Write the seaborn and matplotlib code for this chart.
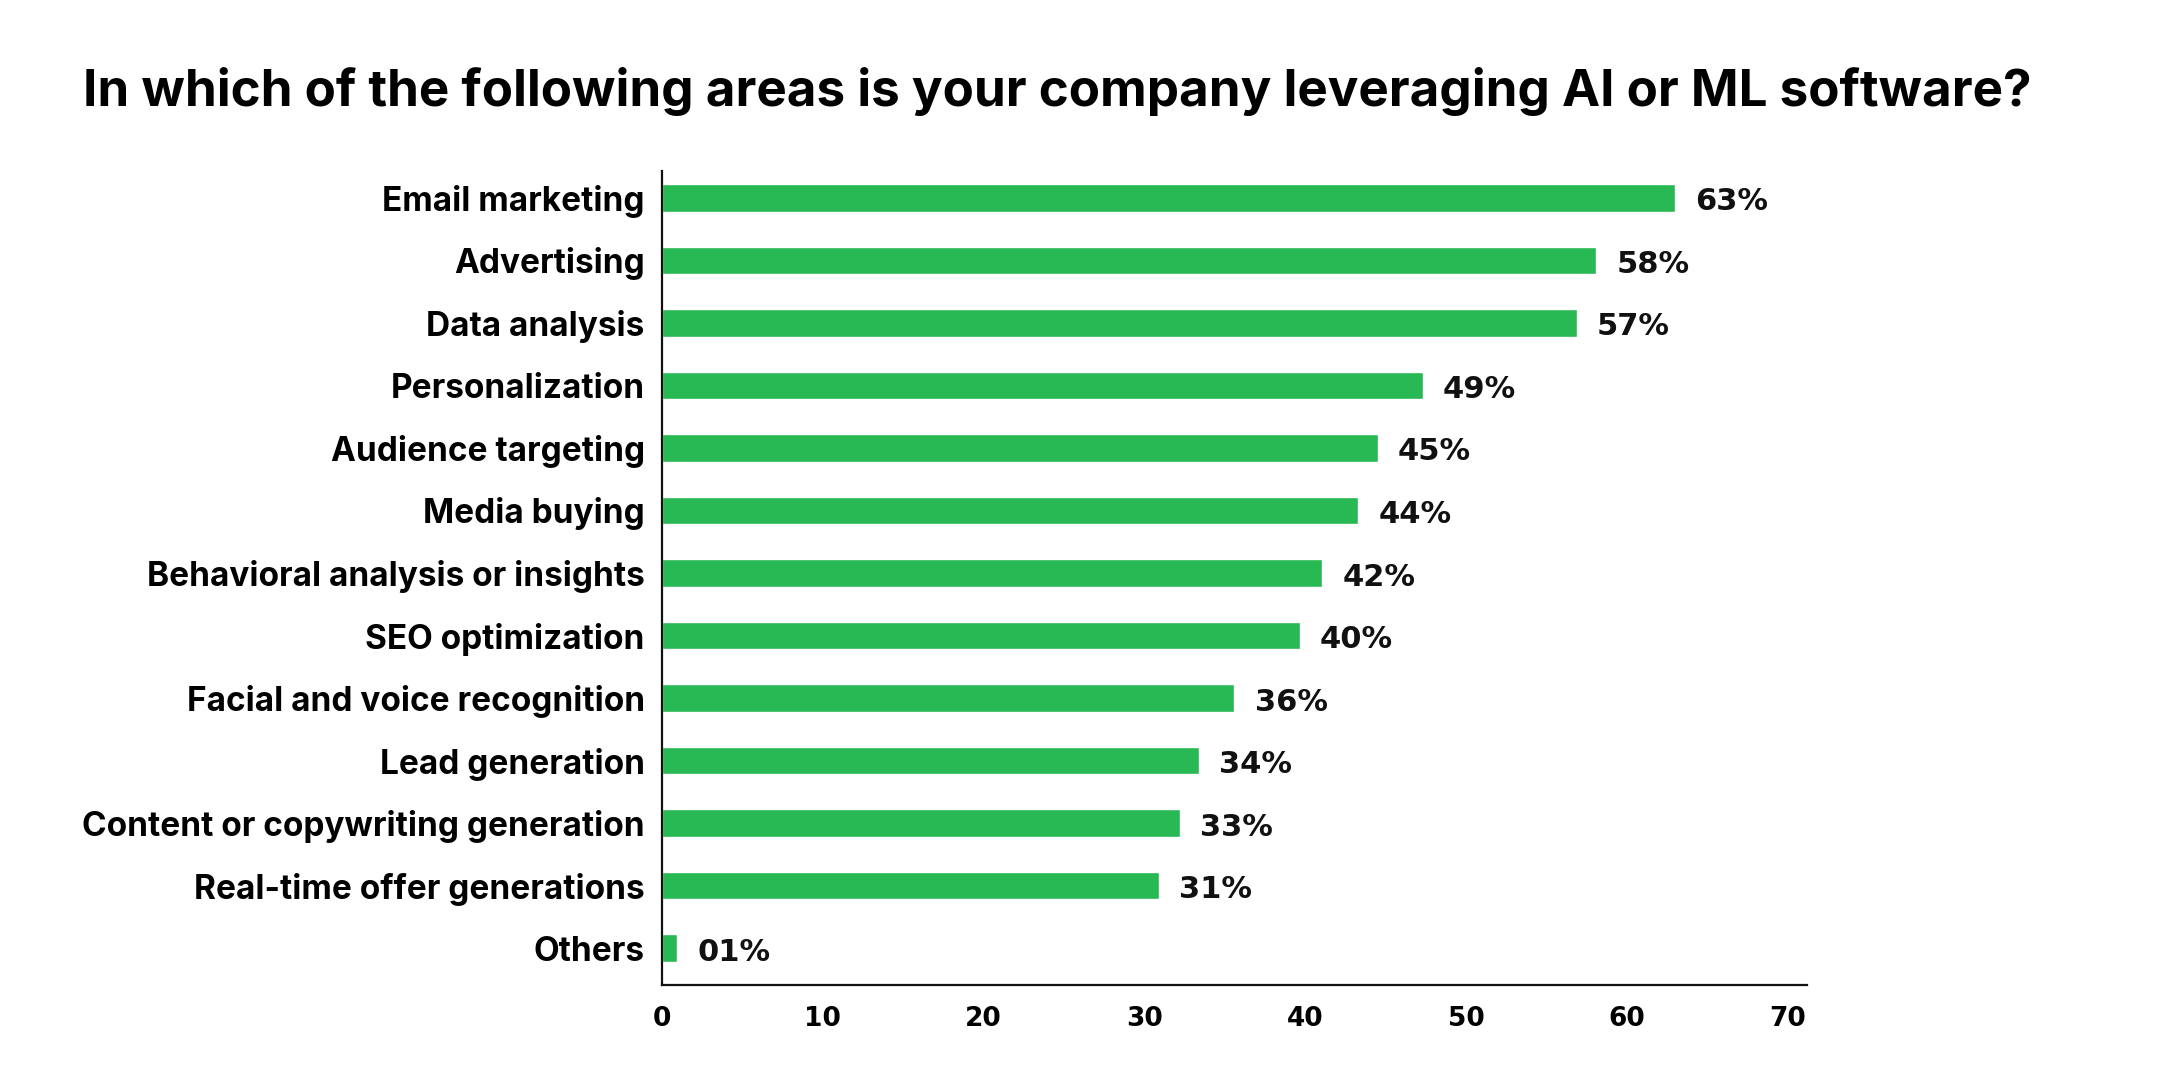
import matplotlib
matplotlib.use("Agg")
import matplotlib.pyplot as plt
import seaborn as sns
import pandas as pd

categories = [
    "Email marketing", "Advertising", "Data analysis", "Personalization",
    "Audience targeting", "Media buying", "Behavioral analysis or insights",
    "SEO optimization", "Facial and voice recognition", "Lead generation",
    "Content or copywriting generation", "Real-time offer generations", "Others",
]
# bar lengths as drawn in the picture
values = [63, 58.1, 56.9, 47.3, 44.5, 43.3, 41.05, 39.65, 35.6, 33.4, 32.2, 30.9, 0.95]
# printed labels
value_labels = ["63%", "58%", "57%", "49%", "45%", "44%", "42%", "40%",
                "36%", "34%", "33%", "31%", "01%"]
x_ticks = [0, 10, 20, 30, 40, 50, 60, 70]
title = "In which of the following areas is your company leveraging AI or ML software?"

sns.set_theme(style="white")
plt.rcParams["font.family"] = ["Inter", "DejaVu Sans"]

df = pd.DataFrame({"area": categories, "pct": values})

fig = plt.figure(figsize=(21.58, 10.81), dpi=100)
ax = fig.add_axes([0.3068, 0.0888, 0.8373 - 0.3068, 0.8418 - 0.0888])

sns.barplot(data=df, y="area", x="pct", orient="h", color="#28b854",
            saturation=1, width=0.44, ax=ax)

ax.set_xlim(0, 71.2)
ax.set_ylim(12.59, -0.43)
ax.set_xticks(x_ticks)
ax.set_xticklabels([str(t) for t in x_ticks], fontsize=19, fontweight="bold",
                   family="DejaVu Sans", color="#000000")
ax.set_yticks(range(len(categories)))
ax.set_yticklabels(categories, fontsize=24, fontweight="bold", color="#000000")
ax.tick_params(axis="x", length=0, pad=15)
ax.tick_params(axis="y", length=0, pad=12.5)
ax.set_xlabel("")
ax.set_ylabel("")

for s in ["top", "right"]:
    ax.spines[s].set_visible(False)
for s in ["left", "bottom"]:
    ax.spines[s].set_color("#111111")
    ax.spines[s].set_linewidth(1.6)

for i, (v, lab) in enumerate(zip(values, value_labels)):
    ax.annotate(lab, xy=(v, i), xytext=(14.5, -9), textcoords="offset points",
                va="baseline", ha="left", fontsize=22, fontweight="bold",
                family="DejaVu Sans", color="#111111")

fig.text(0.0385, 0.915, title, fontsize=36.8, fontweight="bold",
         ha="left", va="center", color="#000000")

fig.savefig("out.png", dpi=100, facecolor="white")
